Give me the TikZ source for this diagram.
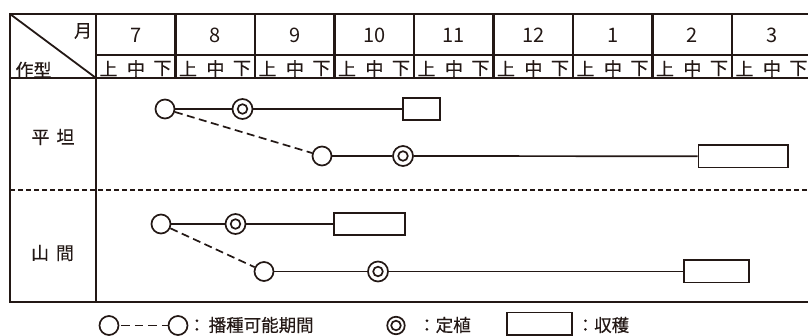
\documentclass[tikz,border=0pt]{standalone}
\usepackage{fontspec}
\setmainfont{Noto Sans CJK JP}[FakeBold=0.3]
\newfontfamily\digitfont{Noto Sans CJK JP}
\definecolor{ink}{HTML}{231815}
\tikzset{
  frame/.style={draw=ink,line width=2.1pt},
  sepline/.style={draw=ink,line width=1.6pt,dash pattern=on 5pt off 3pt},
  sow/.style={circle,draw=ink,line width=1.7pt,minimum size=19pt,inner sep=0pt,fill=white},
  plant/.style={circle,draw=ink,line width=1.7pt,minimum size=20pt,inner sep=0pt,fill=white,
    path picture={\draw[ink,line width=1.7pt] (path picture bounding box.center) circle (4.8pt);}},
  harvest/.style={rectangle,draw=ink,line width=1.7pt,inner sep=0pt,fill=white},
  conn/.style={draw=ink,line width=1.7pt},
  dconn/.style={conn,dash pattern=on 8pt off 4.5pt},
  txt/.style={text=ink,inner sep=0pt,font=\fontsize{18}{20}\selectfont},
  digit/.style={text=ink,inner sep=0pt,font=\digitfont\fontsize{20}{22}\selectfont},
  legtxt/.style={text=ink,inner sep=0pt,anchor=west,font=\fontsize{17.5}{19}\selectfont},
}
\begin{document}
\begin{tikzpicture}[x=1pt,y=-1pt]
\useasboundingbox (0,0) rectangle (808,336);
% table frame
\draw[frame] (808,14) -- (10,14) -- (10,302) -- (808,302);
\draw[frame] (10,78) -- (808,78);
\draw[frame] (96,14) -- (96,302);
\draw[frame] (96,55) -- (808,55);
\draw[draw=ink,line width=1.8pt] (10,14) -- (96,78);
\foreach \k in {1,...,8} {\draw[frame] ({96+79.5*\k},14) -- ({96+79.5*\k},78);}
\draw[sepline] (10,190) -- (808,190);
% header
\node[txt] (tsuki) at (83,31) {月};
\node[txt] (sakugata) at (33.5,70) {作型};
\foreach \m [count=\i from 0] in {7,8,9,10,11,12,1,2,3} {
  \node[digit] (m\i) at ({96+79.5*(\i+0.5)},35) {\m};
  \node[txt] (jo\i) at ({96+79.5*\i+12.5},68.5) {上};
  \node[txt] (chu\i) at ({96+79.5*\i+40},68.5) {中};
  \node[txt] (ge\i) at ({96+79.5*\i+66.5},68.5) {下};
}
% row labels
\node[txt] (heitan) at (53,137) {平\hspace{7pt}坦};
\node[txt] (sankan) at (52.5,253) {山\hspace{7pt}間};
% flat
\node[sow] (c1) at (165,109) {};
\node[plant] (d1) at (242.5,109) {};
\node[harvest,minimum width=37.3pt,minimum height=22.3pt] (h1) at (421.5,109) {};
\node[sow] (c2) at (322,156) {};
\node[plant] (d2) at (403,156) {};
\node[harvest,minimum width=89.3pt,minimum height=22.3pt] (h2) at (743,156.3) {};
\draw[conn] (c1) -- (d1);
\draw[conn] (d1) -- (h1);
\draw[dconn] (c1) -- (c2);
\draw[conn] (c2) -- (d2);
\draw[conn] (d2) -- (h2);
% mountain
\node[sow] (c3) at (161,224) {};
\node[plant] (d3) at (235.5,224) {};
\node[harvest,minimum width=71.3pt,minimum height=21.8pt] (h3) at (369.5,224) {};
\node[sow] (c4) at (264,271.5) {};
\node[plant] (d4) at (378,271.5) {};
\node[harvest,minimum width=65.3pt,minimum height=22.3pt] (h4) at (716.5,271.5) {};
\draw[conn] (c3) -- (d3);
\draw[conn] (d3) -- (h3);
\draw[dconn] (c3) -- (c4);
\draw[conn] (c4) -- (d4);
\draw[conn] (d4) -- (h4);
% legend
\node[sow] (lc1) at (109,325.5) {};
\node[sow] (lc2) at (178,325.5) {};
\draw[conn,dash pattern=on 8.5pt off 5pt,dash phase=-2pt] (lc1) -- (lc2);
\node[legtxt] (lt1) at (188,325) {：\hspace{3pt}播種可能期間};
\node[plant,minimum size=17.5pt] (ld) at (396,325.5) {};
\node[legtxt] (lt2) at (418,325) {：定植};
\node[harvest,minimum width=65.2pt,minimum height=22.3pt] (lh) at (539.3,323.7) {};
\node[legtxt] (lt3) at (576.5,325) {：収穫};
\end{tikzpicture}
\end{document}
